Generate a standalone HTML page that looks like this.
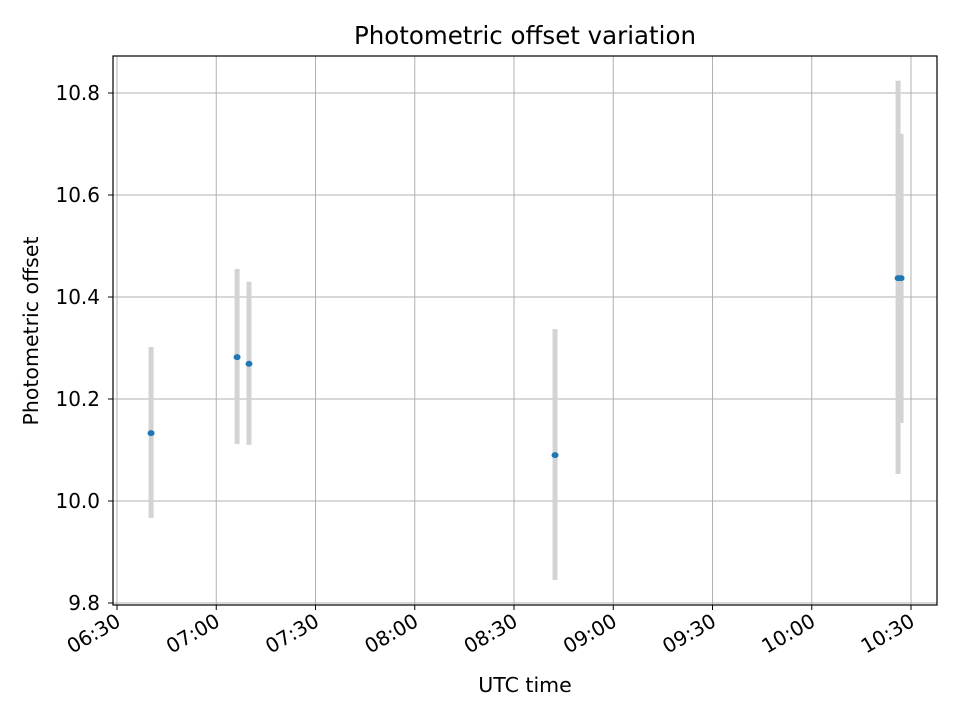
<!DOCTYPE html>
<html><head><meta charset="utf-8"><style>
body{margin:0;background:#fff;}
svg text{font-family:"DejaVu Sans","Liberation Sans",sans-serif;fill:#000;}
</style></head><body>
<svg width="960" height="720" xmlns="http://www.w3.org/2000/svg">
<rect width="960" height="720" fill="#fff"/>
<g id="grid"></g>
<g id="marks"></g>
<rect x="113" y="56" width="824" height="549" fill="none" stroke="#000" stroke-width="1.2"/>
<g id="axes"></g>
<text x="525" y="44" font-size="24.5" text-anchor="middle">Photometric offset variation</text>
<text x="525" y="692" font-size="20.5" text-anchor="middle">UTC time</text>
<text transform="translate(38,331) rotate(-90)" font-size="20.5" text-anchor="middle">Photometric offset</text>
</svg>
<script>
const times=[400.3,426.3,429.9,522.4,626.1,627.0]; // minutes since midnight
const values=[10.133,10.282,10.269,10.090,10.437,10.437];
const errLow=[9.967,10.112,10.110,9.845,10.053,10.153];
const errHigh=[10.302,10.455,10.430,10.337,10.824,10.720];
const yTicks=[9.8,10.0,10.2,10.4,10.6,10.8];
const xTicks=[390,420,450,480,510,540,570,600,630];
const xTickLabels=["06:30","07:00","07:30","08:00","08:30","09:00","09:30","10:00","10:30"];
const NS="http://www.w3.org/2000/svg";
const L=113,R=937,T=56,B=605;
function x(m){return 117+(m-390)*(99.25/30);}
function y(v){return 501-(v-10.0)*(408/0.8);}
function mk(t,a,p){const e=document.createElementNS(NS,t);for(const k in a)e.setAttribute(k,a[k]);p.appendChild(e);return e;}
const grid=document.getElementById('grid'),axes=document.getElementById('axes'),marks=document.getElementById('marks');
yTicks.forEach(v=>{
  const g=mk('line',{x1:L,x2:R,y1:y(v),y2:y(v),stroke:'#b0b0b0','stroke-width':1},grid);
  
  const t=mk('line',{x1:L-5,x2:L,y1:y(v),y2:y(v),stroke:'#000','stroke-width':1},axes);
  
  const l=mk('text',{x:L-13,y:y(v)+7,'font-size':20,'text-anchor':'end'},axes);l.textContent=v.toFixed(1);
  
});
xTicks.forEach((m,i)=>{
  const g=mk('line',{x1:x(m),x2:x(m),y1:T,y2:B,stroke:'#b0b0b0','stroke-width':1},grid);
  
  const t=mk('line',{x1:x(m),x2:x(m),y1:B,y2:B+5,stroke:'#000','stroke-width':1},axes);
  
  const l=mk('text',{x:x(m)+5,y:B+20,'font-size':20,'text-anchor':'end',transform:`rotate(-30 ${x(m)+5} ${B+20})`},axes);
  l.textContent=xTickLabels[i];
  
});
times.forEach((m,i)=>{
  const e=mk('line',{x1:x(m),x2:x(m),y1:y(errHigh[i]),y2:y(errLow[i]),stroke:'#d3d3d3','stroke-width':5},marks);
  
});
times.forEach((m,i)=>{
  const p=mk('ellipse',{cx:x(m),cy:y(values[i]),rx:3.5,ry:3,fill:'#1f77b4'},marks);
  
});
</script>
</body></html>
